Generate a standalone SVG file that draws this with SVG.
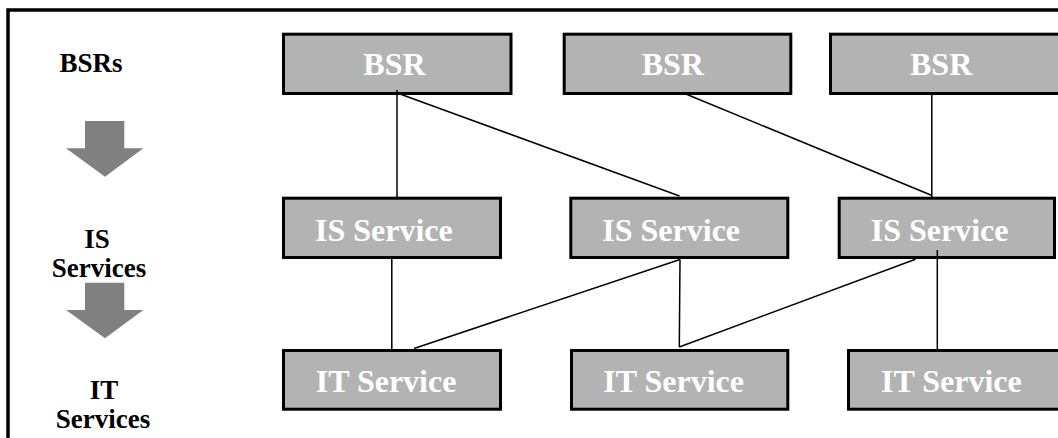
<svg xmlns="http://www.w3.org/2000/svg" width="1058" height="438" viewBox="0 0 1058 438">
  <style>
    .box { fill: #b3b3b3; stroke: #000; stroke-width: 3; }
    .boxlabel { font-family: "Liberation Serif", "Times New Roman", serif; font-weight: bold; font-size: 32px; fill: #ffffff; }
    .tier { font-family: "Liberation Serif", "Times New Roman", serif; font-weight: bold; font-size: 27px; fill: #000; text-anchor: middle; }
    .link { stroke: #000; stroke-width: 1.5; fill: none; }
    .flow { fill: #808080; }
  </style>

  <rect width="1058" height="438" fill="#ffffff"/>

  <!-- outer frame (continues past the right and bottom edges) -->
  <path d="M8 450 V10 H1070" fill="none" stroke="#000" stroke-width="3.5"/>

  <!-- tier labels and down arrows -->
  <g id="tier-labels">
    <text class="tier" x="91" y="72">BSRs</text>
    <text class="tier" x="97" y="248">IS</text>
    <text class="tier" x="99" y="277">Services</text>
    <text class="tier" x="104" y="399">IT</text>
    <text class="tier" x="103" y="428">Services</text>
  </g>
  <g id="tier-arrows">
    <polygon class="flow" points="85,121 124.3,121 124.3,148.3 143.3,148.3 105,176.7 66,148.3 85,148.3"/>
    <polygon class="flow" points="85,282.7 124.3,282.7 124.3,310 143.3,310 105,338.3 66,310 85,310"/>
  </g>

  <!-- BSR row -->
  <g id="bsr-1">
    <rect class="box" x="283.5" y="34.2" width="227.5" height="59.3"/>
    <text class="boxlabel" x="363.3" y="75">BSR</text>
  </g>
  <g id="bsr-2">
    <rect class="box" x="564.2" y="34.2" width="226.6" height="59.3"/>
    <text class="boxlabel" x="641.7" y="75">BSR</text>
  </g>
  <g id="bsr-3">
    <rect class="box" x="830.5" y="34.2" width="240" height="59.3"/>
    <text class="boxlabel" x="910" y="75">BSR</text>
  </g>

  <!-- IS service row -->
  <g id="is-1">
    <rect class="box" x="283.5" y="198.2" width="217" height="59.3"/>
    <text class="boxlabel" x="315" y="241">IS Service</text>
  </g>
  <g id="is-2">
    <rect class="box" x="570.8" y="198.2" width="217" height="59.3"/>
    <text class="boxlabel" x="602.3" y="241">IS Service</text>
  </g>
  <g id="is-3">
    <rect class="box" x="839.2" y="198.2" width="215.3" height="59.3"/>
    <text class="boxlabel" x="870.7" y="241">IS Service</text>
  </g>

  <!-- IT service row -->
  <g id="it-1">
    <rect class="box" x="283.5" y="350.5" width="217" height="58.7"/>
    <text class="boxlabel" x="315.7" y="392">IT Service</text>
  </g>
  <g id="it-2">
    <rect class="box" x="571.5" y="350.5" width="216.3" height="58.7"/>
    <text class="boxlabel" x="603.3" y="392">IT Service</text>
  </g>
  <g id="it-3">
    <rect class="box" x="848.5" y="350.5" width="220" height="58.7"/>
    <text class="boxlabel" x="881" y="392">IT Service</text>
  </g>

  <!-- connectors -->
  <g id="connectors">
    <line class="link" x1="397" y1="90" x2="397" y2="197"/>
    <line class="link" x1="400" y1="94" x2="679.5" y2="196"/>
    <line class="link" x1="687" y1="94.5" x2="932" y2="195.5"/>
    <line class="link" x1="931.8" y1="94" x2="931.8" y2="197"/>
    <line class="link" x1="391.8" y1="259" x2="391.8" y2="349"/>
    <line class="link" x1="680" y1="259.5" x2="414" y2="348.5"/>
    <line class="link" x1="680" y1="259.5" x2="679.3" y2="347"/>
    <line class="link" x1="915.5" y1="259.3" x2="679.3" y2="347"/>
    <line class="link" x1="937.3" y1="250" x2="937.3" y2="349"/>
  </g>
</svg>
